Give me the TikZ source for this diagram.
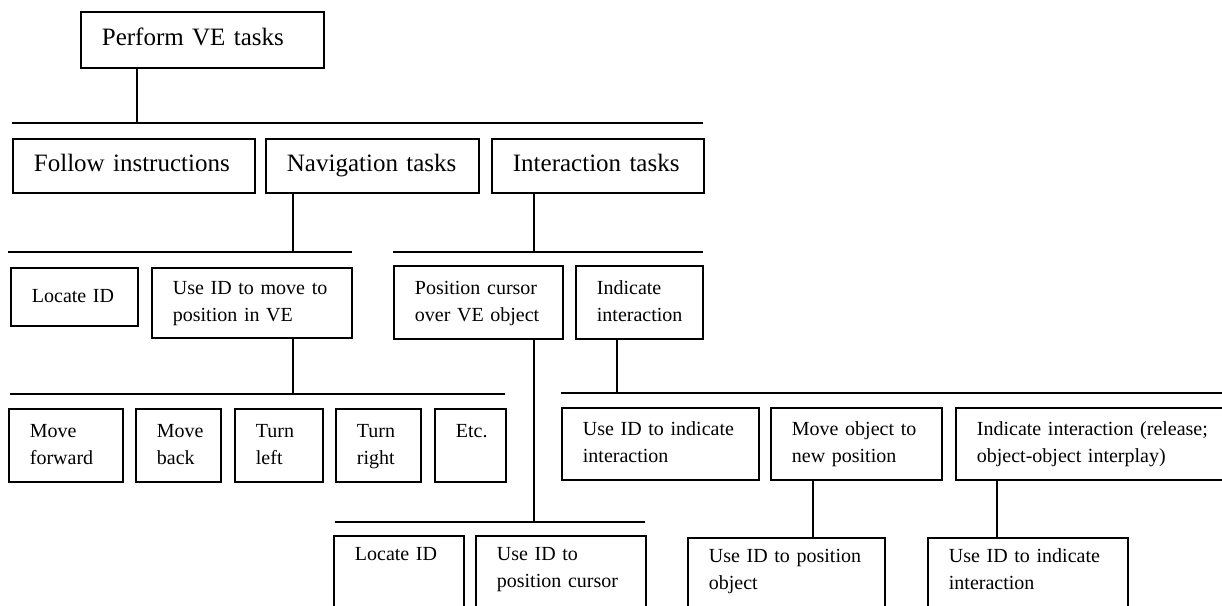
\documentclass[tikz,border=0pt]{standalone}
\usepackage{fontspec}
\setmainfont{Liberation Serif}
\begin{document}
\begin{tikzpicture}[x=1pt,y=-1pt,line width=1.8pt,
    bigbox/.style={draw,anchor=north west,inner xsep=21pt,inner ysep=0pt,align=left,
        font=\fontsize{25}{30}\selectfont,
        execute at begin node=\strut,execute at end node=\strut},
    box/.style={draw,anchor=north west,inner xsep=21pt,inner ysep=0pt,align=left,
        font=\fontsize{20}{27}\selectfont,
        execute at begin node=\strut,execute at end node=\strut},
    openbox/.style={box,inner ysep=6pt,text depth=90pt}]
    \useasboundingbox (0,0) rectangle (1222,605);
    \clip (0,0) rectangle (1222,605);

    % top
    \node[bigbox,text width=201pt,minimum height=56pt] (perform) at (80,11) {Perform VE tasks};

    \coordinate (b1w) at (12,123);
    \coordinate (b1e) at (703,123);
    \coordinate (b1v) at (137,123);
    \draw (b1w) -- (b1e); % bus
    \draw (b1v |- perform.south) -- (b1v);

    % second row
    \node[bigbox,text width=200pt,minimum height=54pt] (follow) at (12,138) {Follow instructions};
    \node[bigbox,text width=171pt,minimum height=54pt] (navig) at (265,138) {Navigation tasks};
    \node[bigbox,text width=170pt,minimum height=54pt] (interact) at (491,138) {Interaction tasks};

    \coordinate (b2w) at (8,252);
    \coordinate (b2e) at (352,252);
    \coordinate (b2v) at (293,252);
    \draw (b2w) -- (b2e); % navigation bus
    \draw (b2v |- navig.south) -- (b2v);

    \coordinate (b3w) at (393,252);
    \coordinate (b3e) at (703,252);
    \coordinate (b3v) at (534,252);
    \draw (b3w) -- (b3e); % interaction bus
    \draw (b3v |- interact.south) -- (b3v);

    % third row
    \node[box,text width=85pt,minimum height=58pt] (locA) at (10,267) {Locate ID};
    \node[box,text width=158pt,minimum height=70pt] (usemove) at (151,267) {Use ID to move to\\position in VE};
    \node[box,text width=127pt,minimum height=73pt] (poscur) at (393,265) {Position cursor\\over VE object};
    \node[box,text width=85pt,minimum height=73pt] (indic) at (575,265) {Indicate\\interaction};

    \coordinate (b4w) at (10,394);
    \coordinate (b4e) at (505,394);
    \coordinate (b4v) at (293,394);
    \draw (b4w) -- (b4e); % moves bus
    \draw (b4v |- usemove.south) -- (b4v);

    \coordinate (b5w) at (561,393);
    \coordinate (b5e) at (1230,393);
    \coordinate (b5v) at (617,393);
    \draw (b5w) -- (b5e); % indicate bus
    \draw (b5v |- indic.south) -- (b5v);

    \coordinate (b6w) at (335,522);
    \coordinate (b6e) at (645,522);
    \coordinate (b6v) at (534,522);
    \draw (b6w) -- (b6e); % cursor bus
    \draw (b6v |- poscur.south) -- (b6v);

    % fourth row, left
    \node[box,text width=72pt,minimum height=73pt] (fwd) at (8,408) {Move\\forward};
    \node[box,text width=43pt,minimum height=73pt] (back) at (135,408) {Move\\back};
    \node[box,text width=46pt,minimum height=73pt] (tleft) at (234,408) {Turn\\left};
    \node[box,text width=43pt,minimum height=73pt] (tright) at (335,408) {Turn\\right};
    \node[box,text width=29pt,minimum height=73pt] (etc) at (434,408) {Etc.\\~};

    % fourth row, right
    \node[box,text width=155pt,minimum height=72pt] (useind) at (561,407) {Use ID to indicate\\interaction};
    \node[box,text width=129pt,minimum height=72pt] (moveobj) at (770,407) {Move object to\\new position};
    \node[box,text width=300pt,minimum height=72pt] (indrel) at (955,407) {Indicate interaction (release;\\object-object interplay)};

    % bottom row
    \node[openbox,text width=88pt] (locB) at (333,535) {Locate ID};
    \node[openbox,text width=128pt] (usecur) at (475,535) {Use ID to\\position cursor};
    \node[openbox,text width=155pt] (useobj) at (687,537) {Use ID to position\\object};
    \node[openbox,text width=158pt] (useindB) at (927,537) {Use ID to indicate\\interaction};

    \coordinate (r1) at (813,0);
    \coordinate (r2) at (997,0);
    \draw (r1 |- moveobj.south) -- (r1 |- useobj.north);
    \draw (r2 |- indrel.south) -- (r2 |- useindB.north);
\end{tikzpicture}
\end{document}
